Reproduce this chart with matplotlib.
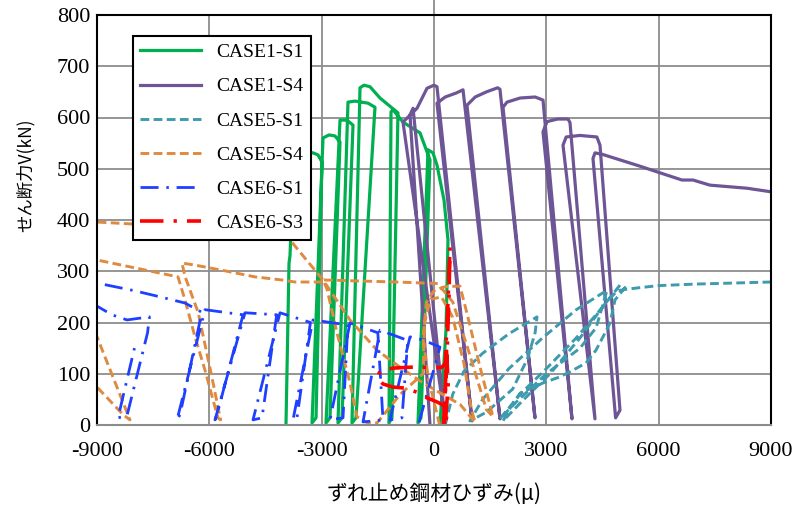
import matplotlib
matplotlib.use('Agg')
import matplotlib.pyplot as plt

# CASE1-S1 (strain, shear force)
c1s1_x = [160, 320, 374, 267, 80, -27, -160,
          -427, -347, -107, -374, -828, -1095, -1148,
          -1202, -1122, -962, -1442, -1709, -1869, -1976,
          -2190, -2083, -1576, -1763, -2110, -2297,
          -2564, -2457, -2163, -2323, -2510,
          -2884, -2778, -2510, -2644, -2804, -2964,
          -3258, -3151, -2991, -3098, -3232, -3579, -3739, -3846, -3872, -3953]
c1s1_y = [0, 185, 361, 439, 507, 531, 537,
          4, 14, 517, 570, 591, 615, 611,
          4, 14, 609, 638, 660, 663, 658,
          4, 14, 620, 628, 632, 630,
          4, 14, 585, 595, 595,
          4, 14, 552, 564, 566, 560,
          4, 14, 513, 527, 531, 533, 521, 330, 316, 0]

# CASE1-S4
c1s4_x = [-107, -641, -560, 294, -828, -454, -187, 0, 80, 1015,
          80, 300, 600, 775, 1762,
          881, 1100, 1400, 1700, 1762, 2697,
          1843, 1950, 2300, 2700, 2911, 3685,
          2911, 3020, 3300, 3580, 3632, 4299,
          3445, 3530, 3900, 4350, 4433, 4967, 4850,
          4246, 4300, 4500, 5154, 5500, 5955, 6623, 6917, 7371, 8359, 9000]
c1s4_y = [0, 605, 618, 8, 591, 618, 657, 663, 660, 8,
          628, 640, 648, 654, 12,
          624, 640, 650, 658, 655, 14,
          620, 630, 638, 640, 634, 12,
          572, 592, 597, 597, 590, 12,
          546, 562, 565, 562, 546, 29, 14,
          520, 531, 528, 513, 505, 494, 478, 478, 468, 462, 455]

# CASE5-S1
c5s1_x = [300, 500, 800, 1300, 2000, 2751, 2700, 2500, 2100, 1400, 960,
          1300, 2000, 2900, 3800, 4620, 4500, 4330, 3900, 3000, 2200, 1760,
          2300, 3000, 3800, 4500, 4967, 5100, 4834, 4700, 4513, 4326, 4059,
          3712, 3365, 2911, 2297, 2050, 1843,
          2400, 3100, 3900, 4600, 4900, 5154, 5500, 6000, 7000, 8000, 9000]
c5s1_y = [0, 60, 105, 140, 178, 211, 180, 130, 70, 25, 8,
          50, 110, 170, 225, 263, 232, 190, 150, 100, 45, 12,
          60, 110, 170, 230, 273, 268, 244, 199, 172, 146, 121,
          107, 94, 82, 62, 35, 8,
          50, 100, 170, 240, 262, 265, 268, 272, 275, 277, 279]

# CASE5-S4
c5s4_x = [150, -150, -294, -200, 0, 300, 694, 880, 1229, 1576,
          1400, 900, 500, 100, -1000, -2000, -2964,
          -2857, -2591, -2243, -2057, -1800, -1522,
          -900, -294, -250, -100, 200, 500, 800, 1000, 1100, 700, -294,
          -911, -1522, -2243, -2964,
          -3846, -5000, -7000, -9000, -9500,
          -9500, -9000, -8500, -8119, -8300, -9000, -9500,
          -9500, -9000, -6837, -6650, -6383, -6116, -5849, -5769,
          -5700, -5950, -6300, -6650, -6730, -6383, -5662, -4781, -4060, -3712, -2911]
c5s4_y = [0, 90, 170, 240, 262, 270, 271, 218, 113, 16,
          30, 150, 240, 276, 279, 281, 283,
          265, 180, 82, 16, 5, 4,
          60, 100, 200, 245, 250, 210, 120, 30, 5, 40, 82,
          113, 146, 205, 283,
          361, 375, 388, 396, 398,
          230, 172, 80, 10, 20, 74, 110,
          330, 322, 289, 244, 172, 107, 35, 14,
          10, 100, 220, 290, 316, 312, 302, 289, 283, 279, 279]

# CASE6-S1
c6s1_x = [-400, 160, -294, -641, -1175, -855, -700, -1442, -1896, -1362, -1500,
          -2243, -2778, -2430, -2300, -3232, -3766, -3659, -3300,
          -4113, -4834, -4594, -4200, -5048, -5849, -5795, -5100,
          -6116, -6864, -6783, -6200, -6650, -7200, -8000, -9000, -9400,
          -9400, -9000, -8600, -8199, -7600, -7650, -8199, -8439, -8000]
c6s1_y = [5, 152, 166, 172, 10, 14, 165, 185, 6, 10, 180,
          199, 10, 14, 195, 205, 10, 14, 200,
          219, 10, 14, 215, 219, 10, 20, 215,
          225, 10, 20, 220, 238, 248, 262, 277, 283,
          240, 232, 215, 205, 211, 180, 18, 14, 150]

# CASE6-S3
c6s3_x = [250, 330, 400, 427, 380, 300, 200, -27, -561, -1095, -1442, -1520,
          -1362, -1095, -775, -454, -187, 80, 347, 300, 380, 330, 280]
c6s3_y = [0, 100, 250, 347, 250, 120, 112, 112, 113, 111, 105, 92,
          80, 74, 72, 64, 53, 45, 35, 0, 80, 150, 0]

series_labels = ['CASE1-S1', 'CASE1-S4', 'CASE5-S1', 'CASE5-S4', 'CASE6-S1', 'CASE6-S3']
x_ticks = [-9000, -6000, -3000, 0, 3000, 6000, 9000]
y_ticks = [0, 100, 200, 300, 400, 500, 600, 700, 800]

plt.rcParams['axes.unicode_minus'] = False
serif = 'Liberation Serif'
jp = ['Noto Sans CJK JP', 'DejaVu Sans']

fig = plt.figure(figsize=(8.03, 5.08), dpi=100)
ax = fig.add_axes([97 / 803, 1 - 425 / 508, 674 / 803, 410 / 508])

dash = (0, (3.0, 1.5))
dashdot = (0, (6.5, 2.8, 0.9, 2.8))
styles = [
    (c1s1_x, c1s1_y, '#00B050', '-', 2.3),
    (c1s4_x, c1s4_y, '#6E5596', '-', 2.3),
    (c5s1_x, c5s1_y, '#3E9BAE', dash, 2.1),
    (c5s4_x, c5s4_y, '#DE8A40', dash, 2.1),
    (c6s1_x, c6s1_y, '#1F40FF', dashdot, 2.0),
    (c6s3_x, c6s3_y, '#FF0000', dashdot, 2.6),
]
for (x, y, color, ls, lw), label in zip(styles, series_labels):
    ax.plot(x, y, color=color, linestyle=ls, linewidth=lw, label=label)

ax.set_xlim(x_ticks[0], x_ticks[-1])
ax.set_ylim(y_ticks[0], y_ticks[-1])
ax.set_xticks(x_ticks)
ax.set_yticks(y_ticks)
ax.grid(True, color='#8C8C8C', linewidth=1.3)
ax.set_axisbelow(True)
# the zero line pokes out above the frame in the original
ax.plot([0, 0], [y_ticks[-1], y_ticks[-1] * 1.04], color='#8C8C8C', lw=1.3, clip_on=False)

for side in ['left', 'top', 'right']:
    ax.spines[side].set_color('black')
    ax.spines[side].set_linewidth(1.5)
ax.spines['bottom'].set_color('#8C8C8C')
ax.spines['bottom'].set_linewidth(1.5)

ax.tick_params(axis='both', length=0, labelsize=16)
ax.tick_params(axis='x', pad=12)
ax.tick_params(axis='y', pad=5)
for lab in ax.get_xticklabels() + ax.get_yticklabels():
    lab.set_fontfamily(serif)

ax.set_xlabel('ずれ止め鋼材ひずみ(μ)', fontsize=15, family=jp)
ax.set_ylabel('せん断力V(kN)', fontsize=12.5, family=jp)
ax.xaxis.set_label_coords(0.5, -0.14)
ax.yaxis.set_label_coords(-0.092, 0.61)

leg = ax.legend(loc='upper left', bbox_to_anchor=(0.053, 0.949), borderaxespad=0,
                prop={'family': serif, 'size': 14}, handlelength=3.1,
                labelspacing=0.85, fancybox=False, framealpha=1, edgecolor='black')
leg.get_frame().set_linewidth(1.5)

fig.savefig('out.png', dpi=100)
